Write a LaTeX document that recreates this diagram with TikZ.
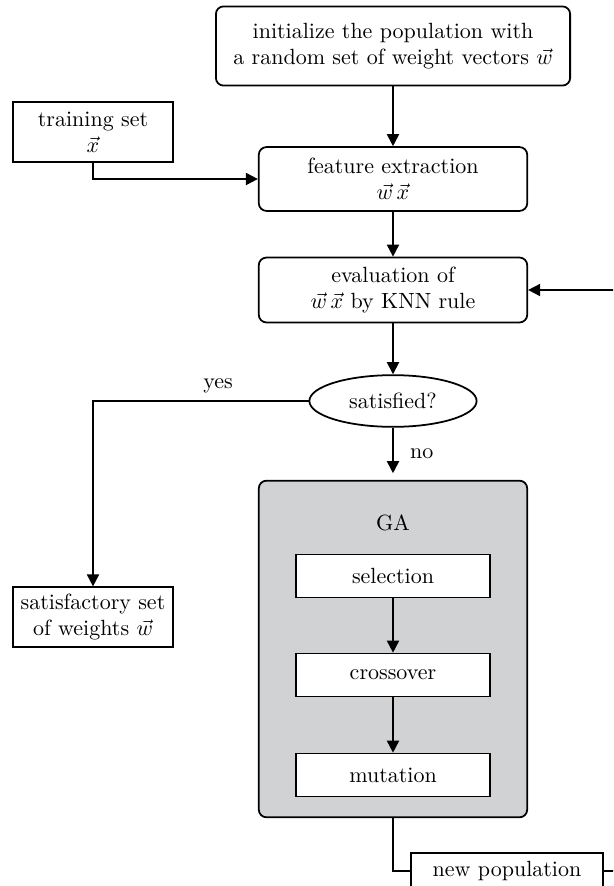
\documentclass[tikz,border=0pt]{standalone}
\usepackage{amsmath}
\usetikzlibrary{arrows.meta,shapes.geometric}
\definecolor{gabox}{HTML}{D1D2D4}
\tikzset{%
    >={Triangle[length=5.5pt,width=5.5pt]}
}

\begin{document}
\begin{tikzpicture}[x=0.4545pt,y=-0.4545pt,line width=0.8pt,
    roundbox/.style={draw,rounded corners=3.5pt,align=center,inner sep=2pt},
    plainbox/.style={draw,align=center,inner sep=2pt},
    wide/.style={minimum width=122pt},
    gastep/.style={plainbox,fill=white,minimum width=88pt,minimum height=19.5pt}]

    \useasboundingbox (0,0) rectangle (613,886);
    \clip (0,0) rectangle (613,886);

    % main column
    \node[roundbox,minimum width=161pt,minimum height=36pt] (init) at (393,46)
        {initialize the population with\\a random set of weight vectors $\vec{w}$};
    \node[roundbox,wide,minimum height=29pt] (feat) at (393,179)
        {feature extraction\\$\vec{w}\,\vec{x}$};
    \node[roundbox,wide,minimum height=29.5pt] (eval) at (393,290)
        {evaluation of\\$\vec{w}\,\vec{x}$ by KNN rule};
    \node[draw,ellipse,minimum width=76pt,minimum height=23.5pt,inner sep=1pt] (sat) at (393,401)
        {satisfied?};

    % side boxes
    \node[plainbox,minimum width=73pt,minimum height=27pt] (train) at (93,132)
        {training set\\$\vec{x}$};
    \node[plainbox,minimum width=73pt,minimum height=27pt] (done) at (93,617)
        {satisfactory set\\of weights $\vec{w}$};

    % GA block
    \node[roundbox,wide,fill=gabox,minimum height=153pt] (ga) at (393,649) {};
    \node (galabel) at (393,523) {GA};
    \node[gastep] (sel) at (393,576) {selection};
    \node[gastep] (cross) at (393,675) {crossover};
    \node[gastep] (mut) at (393,775) {mutation};

    \node[plainbox,minimum width=87pt,minimum height=16.5pt] (newpop) at (507,871)
        {new population};
    \coordinate (loop) at (640,0);

    \draw[->] (init) -- (feat);
    \draw[->] (train.south) |- (feat.west);
    \draw[->] (feat) -- (eval);
    \draw[->] (eval) -- (sat);
    \draw[->] (sat.west) -| (done.north) node[pos=0.21,above] {yes};
    \draw[->,shorten >=3pt] (sat) -- (ga) node[midway,right=4pt] {no};
    \draw[->] (sel) -- (cross);
    \draw[->] (cross) -- (mut);
    \draw (ga.south) |- (newpop.west);
    \draw[->] (newpop.east) -| (loop |- eval.east) -- (eval.east);
\end{tikzpicture}
\end{document}
